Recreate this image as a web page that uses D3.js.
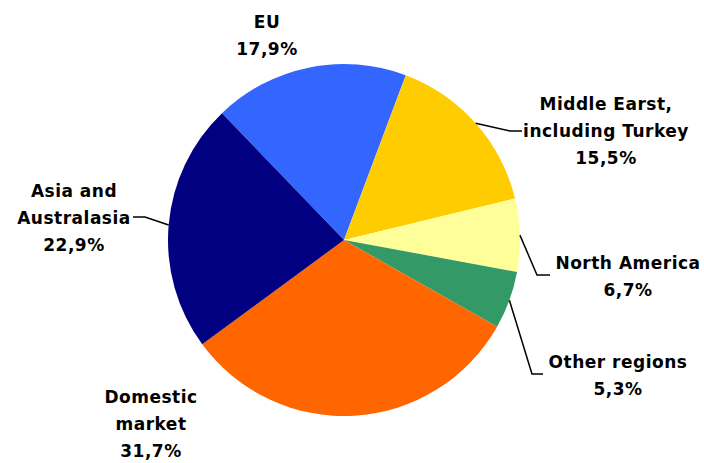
<!DOCTYPE html>
<html>
<head>
<meta charset="utf-8">
<script src="https://cdn.jsdelivr.net/npm/d3@7"></script>
<style>
  html, body { margin: 0; padding: 0; background: #fff; }
  svg { display: block; }
  text { font-family: "DejaVu Sans", Verdana, sans-serif; font-weight: bold; fill: #000; letter-spacing: 0.5px; }
</style>
</head>
<body>
<svg id="chart" width="704" height="463"></svg>
<script>
// Export structure by region (share of sales, %)
const categories = ["EU", "Middle Earst, including Turkey", "North America", "Other regions", "Domestic market", "Asia and Australasia"];
const values = [17.9, 15.5, 6.7, 5.3, 31.7, 22.9];
const colors = ["#3366FF", "#FFCC00", "#FFFF99", "#339966", "#FF6600", "#000080"];
// Label lines (name split over lines)
const labelLines = [
  ["EU"],
  ["Middle Earst,", "including Turkey"],
  ["North America"],
  ["Other regions"],
  ["Domestic", "market"],
  ["Asia and", "Australasia"]
];

// Layout
const width = 704, height = 463;
const cx = 344, cy = 240, radius = 176;
const fontSize = 17, lineHeight = 27;
const deg = Math.PI / 180;
// label block anchors (centre x, first baseline y) and leader elbow/end points
const labelLayout = {
  "EU":                              { x: 267, y: 28 },
  "Middle Earst, including Turkey":  { x: 606, y: 110, elbow: [510, 131], end: [522, 131] },
  "North America":                   { x: 628, y: 269, elbow: [537, 275], end: [550, 275] },
  "Other regions":                   { x: 618, y: 368, elbow: [532, 374], end: [543, 374] },
  "Domestic market":                 { x: 151, y: 403 },
  "Asia and Australasia":            { x: 74,  y: 197, elbow: [145, 217], end: [133, 217] }
};

const fmt = d3.formatLocale({ decimal: ",", thousands: " ", grouping: [3], currency: ["", ""] }).format(".1f");

const data = categories.map((c, i) => ({ name: c, value: values[i], color: colors[i], lines: labelLines[i] }));

const svg = d3.select("#chart");
const g = svg.append("g").attr("transform", `translate(${cx},${cy})`);

const pie = d3.pie()
  .value(d => d.value)
  .sort(null)
  .startAngle(-43.9 * deg)
  .endAngle(-43.9 * deg + 2 * Math.PI);

const arc = d3.arc().innerRadius(0).outerRadius(radius);
const edge = d3.arc().innerRadius(radius).outerRadius(radius);

const arcs = pie(data);

g.selectAll("path.slice")
  .data(arcs)
  .join("path")
  .attr("class", "slice")
  .attr("d", arc)
  .attr("fill", d => d.data.color);

// leader lines from slice edge to the label
svg.append("g").selectAll("polyline")
  .data(arcs.filter(d => labelLayout[d.data.name].elbow))
  .join("polyline")
  .attr("fill", "none")
  .attr("stroke", "#000")
  .attr("stroke-width", 1.5)
  .attr("points", d => {
    const [ex, ey] = edge.centroid(d);
    const L = labelLayout[d.data.name];
    return [[cx + ex, cy + ey], L.elbow, L.end].map(p => p.join(",")).join(" ");
  });

// labels
const labels = svg.append("g").selectAll("text")
  .data(arcs)
  .join("text")
  .attr("text-anchor", "middle")
  .attr("font-size", fontSize)
  .attr("x", d => labelLayout[d.data.name].x)
  .attr("y", d => labelLayout[d.data.name].y);

labels.each(function(d) {
  const L = labelLayout[d.data.name];
  const t = d3.select(this);
  const lines = d.data.lines.concat([fmt(d.data.value) + "%"]);
  lines.forEach((ln, i) => {
    t.append("tspan").attr("x", L.x).attr("dy", i === 0 ? 0 : lineHeight).text(ln);
  });
});
</script>
</body>
</html>
